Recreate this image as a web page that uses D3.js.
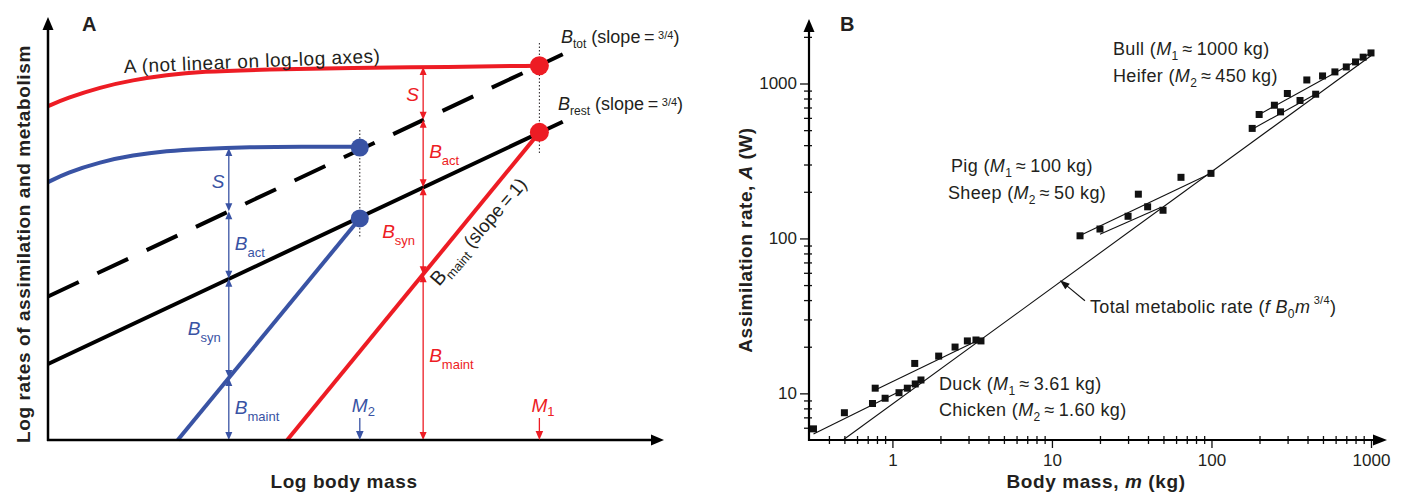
<!DOCTYPE html>
<html>
<head>
<meta charset="utf-8">
<script src="https://cdn.jsdelivr.net/npm/d3@7"></script>
<style>
  body { margin: 0; background: #fff; }
  svg text { font-family: "Liberation Sans", Arial, Helvetica, sans-serif; fill: #231f20; }
</style>
</head>
<body>
<div id="chart"></div>
<script>
// ---------- panel A : schematic, log body mass vs log rate (arbitrary units) ----------
const restLine = [[0, 1.8], [8.37, 7.54]];
const totLine = [[0, 3.4], [8.37, 9.14]];
const maintRed = [[3.89, 0], [7.99, 7.29]];
const maintBlue = [[2.11, 0], [5.07, 5.25]];
const assimRed = [[0, 7.91], [0.3, 8.1], [0.85, 8.36], [1.38, 8.53], [1.93, 8.65], [2.47, 8.73], [3.56, 8.78], [4.91, 8.82], [6.54, 8.84], [7.99, 8.87]];
const assimBlue = [[0, 6.11], [0.3, 6.33], [0.85, 6.59], [1.38, 6.75], [1.93, 6.85], [2.47, 6.9], [3.28, 6.94], [4.1, 6.95], [5.07, 6.95]];
const massMarkNames = ['2', '1'];
const massMarkU = [5.07, 7.99];
const dotsRed = [[7.99, 8.87], [7.99, 7.29]];
const dotsBlue = [[5.07, 6.93], [5.07, 5.25]];
// budget columns: level boundaries from top (A) to bottom (axis)
const budgetNames = ['S', 'act', 'syn', 'maint'];
const blueColumnU = 2.94;
const blueLevels = [6.92, 5.42, 3.82, 1.47, 0];
const redColumnU = 6.10;
const redLevels = [8.84, 7.59, 5.99, 3.93, 0];

// ---------- panel B : assimilation rate vs body mass ----------
const bullMass = [199, 248, 299, 396, 497, 594, 700, 800, 893, 1000];
const bullRate = [631, 724, 862, 1054, 1119, 1188, 1279, 1378, 1479, 1575];
const heiferMass = [180, 271, 359, 450];
const heiferRate = [513, 656, 777, 853];
const pigMass = [15, 34.8, 64.4, 99.3];
const pigRate = [104, 193, 248, 263];
const sheepMass = [20, 30, 39.8, 49.7];
const sheepRate = [115, 139, 160, 152];
const duckMass = [0.78, 1.38, 1.95, 2.47, 2.95, 3.34, 3.59];
const duckRate = [10.8, 15.6, 17.4, 19.9, 21.8, 22.1, 21.8];
const chickenMass = [0.32, 0.5, 0.75, 0.9, 1.1, 1.24, 1.39, 1.51];
const chickenRate = [5.9, 7.5, 8.6, 9.3, 10.1, 10.8, 11.5, 12.2];
// model curves (growth trajectories) and total metabolic rate line
const bullFit = [[195.5, 624], [986, 1563]];
const heiferFit = [[178.6, 505], [445, 849]];
const pigFit = [[15, 104.5], [99.3, 263]];
const sheepFit = [[20, 106.6], [47.6, 157.5]];
const duckFit = [[0.78, 10.5], [3.63, 22.6]];
const chickenFit = [[0.32, 5.46], [1.55, 12.2]];
const totalFit = [[0.49, 5], [1000, 1511]];
const totalPointer = [[16.1, 39.6], [11.2, 53.8]];
const yMajor = [10, 100, 1000];
const yMinor = [6, 7, 8, 9, 20, 30, 40, 50, 60, 70, 80, 90, 200, 300, 400, 500, 600, 700, 800, 900, 2000];
const xMajor = [1, 10, 100, 1000];
const xMinor = [0.4, 0.5, 0.6, 0.7, 0.8, 0.9, 2, 3, 4, 5, 6, 7, 8, 9, 20, 30, 40, 50, 60, 70, 80, 90, 200, 300, 400, 500, 600, 700, 800, 900];

const RED = '#ed1c24', BLUE = '#3953a4', INK = '#231f20';

const svg = d3.select('#chart').append('svg').attr('width', 1406).attr('height', 492);

// rich text helper: parts = [{t, i, sub, sup, size}]
function rich(g, x, y, parts, size, color, spacing) {
  const t = g.append('text').attr('x', x).attr('y', y).style('font-size', size + 'px');
  if (color) t.style('fill', color);
  if (spacing) t.style('letter-spacing', spacing + 'px');
  let shift = 0;
  parts.forEach(p => {
    const s = t.append('tspan').text(p.t);
    const target = p.sub ? (p.sub === true ? 5 : p.sub) : p.sup ? (p.sup === true ? -7 : p.sup) : 0;
    s.attr('dy', target - shift);
    shift = target;
    if (p.i) s.style('font-style', 'italic');
    if (p.size) s.style('font-size', p.size + 'px');
    else if (p.sub || p.sup) s.style('font-size', Math.round(size * 0.68) + 'px');
  });
  return t;
}

function arrowHead(g, x, y, dir, len, half, color) {
  let pts;
  if (dir === 'up') pts = [[x, y], [x - half, y + len], [x + half, y + len]];
  else if (dir === 'down') pts = [[x, y], [x - half, y - len], [x + half, y - len]];
  else pts = [[x, y], [x - len, y - half], [x - len, y + half]];
  g.append('path').attr('d', 'M' + pts.join('L') + 'Z').attr('fill', color);
}

// ================= Panel A =================
const gA = svg.append('g');
const xA = d3.scaleLinear().domain([0, 10]).range([48, 663]);
const yA = d3.scaleLinear().domain([0, 10]).range([440, 18]);
const lineA = d3.line().x(d => xA(d[0])).y(d => yA(d[1]));
const curveA = d3.line().curve(d3.curveBasis).x(d => xA(d[0])).y(d => yA(d[1]));

// dotted guides at M2 / M1
massMarkU.forEach((u, i) => {
  const top = i === 0 ? 130 : 43, bot = i === 0 ? 237 : 153;
  gA.append('line').attr('x1', xA(u)).attr('x2', xA(u)).attr('y1', top).attr('y2', bot)
    .attr('stroke', INK).attr('stroke-width', 1).attr('stroke-dasharray', '1.5,2');
});

gA.append('path').attr('d', lineA(totLine)).attr('fill', 'none').attr('stroke', '#000')
  .attr('stroke-width', 4).attr('stroke-dasharray', '34,20.5');
gA.append('path').attr('d', lineA(restLine)).attr('fill', 'none').attr('stroke', '#000').attr('stroke-width', 4);
gA.append('path').attr('d', lineA(maintBlue)).attr('fill', 'none').attr('stroke', BLUE).attr('stroke-width', 4);
gA.append('path').attr('d', lineA(maintRed)).attr('fill', 'none').attr('stroke', RED).attr('stroke-width', 4);
gA.append('path').attr('d', curveA(assimBlue)).attr('fill', 'none').attr('stroke', BLUE).attr('stroke-width', 4);
gA.append('path').attr('d', curveA(assimRed)).attr('fill', 'none').attr('stroke', RED).attr('stroke-width', 4);

gA.selectAll('.dotR').data(dotsRed).enter().append('circle')
  .attr('cx', d => xA(d[0])).attr('cy', d => yA(d[1])).attr('r', 9.5).attr('fill', RED);
gA.selectAll('.dotB').data(dotsBlue).enter().append('circle')
  .attr('cx', d => xA(d[0])).attr('cy', d => yA(d[1])).attr('r', 9).attr('fill', BLUE);

// budget double arrows
function budget(u, levels, color) {
  const x = xA(u);
  for (let k = 0; k < levels.length - 1; k++) {
    const y1 = yA(levels[k]), y2 = yA(levels[k + 1]);
    gA.append('line').attr('x1', x).attr('x2', x).attr('y1', y1 + 6).attr('y2', y2 - 6)
      .attr('stroke', color).attr('stroke-width', 1.3);
    arrowHead(gA, x, y1, 'up', 8, 3.5, color);
    arrowHead(gA, x, y2, 'down', 8, 3.5, color);
    const mid = (y1 + y2) / 2;
    if (k === 0) {
      rich(gA, x - 17, mid + 8, [{t: 'S', i: true}], 19, color);
    } else if (k % 2 === 1) {
      rich(gA, x + 6, mid + 5, [{t: 'B', i: true}, {t: budgetNames[k], sub: 7}], 19, color);
    } else {
      rich(gA, x - 41, mid + 7, [{t: 'B', i: true}, {t: budgetNames[k], sub: 7}], 19, color);
    }
  }
}
budget(blueColumnU, blueLevels, BLUE);
budget(redColumnU, redLevels, RED);

// axes with arrows
gA.append('line').attr('x1', xA(0)).attr('x2', xA(0)).attr('y1', yA(0) + 1).attr('y2', 28).attr('stroke', '#000').attr('stroke-width', 2.5);
arrowHead(gA, xA(0), 17, 'up', 13, 5.5, '#000');
gA.append('line').attr('x1', xA(0) - 1).attr('x2', 652).attr('y1', yA(0)).attr('y2', yA(0)).attr('stroke', '#000').attr('stroke-width', 2.5);
arrowHead(gA, 664, yA(0), 'right', 13, 5.5, '#000');

// M markers
massMarkU.forEach((u, i) => {
  const color = i === 0 ? BLUE : RED;
  const x = xA(u);
  gA.append('line').attr('x1', x).attr('x2', x).attr('y1', 418).attr('y2', 432).attr('stroke', color).attr('stroke-width', 1.3);
  arrowHead(gA, x, 440, 'down', 9, 3.8, color);
  rich(gA, x - 8, 412, [{t: 'M', i: true}, {t: massMarkNames[i], sub: 4}], 19, color);
});

// labels
gA.append('text').attr('x', 82).attr('y', 31).style('font-size', '20px').style('font-weight', 'bold').text('A');
gA.append('text').attr('transform', 'translate(124,73) rotate(-2.4)').style('font-size', '19px')
  .style('letter-spacing', '0.5px').text('A (not linear on log-log axes)');
rich(gA, 561, 43, [{t: 'B', i: true}, {t: 'tot', sub: 5}, {t: ' (slope\u2009=\u2009', sub: 0}, {t: '3/4', sup: -4, size: 11}, {t: ')', sup: 0}], 18);
rich(gA, 558, 110, [{t: 'B', i: true}, {t: 'rest', sub: 5}, {t: ' (slope\u2009=\u2009', sub: 0}, {t: '3/4', sup: -4, size: 11}, {t: ')', sup: 0}], 18);
rich(gA, 0, 0, [{t: 'B', size: 20}, {t: 'maint', sub: 5}, {t: '  (slope\u2009=\u20091)', sub: 0}], 18.5)
  .attr('transform', 'translate(439,287) rotate(-49)');
gA.append('text').attr('transform', 'translate(30,244) rotate(-90)').attr('text-anchor', 'middle')
  .style('font-size', '19px').style('font-weight', 'bold').style('letter-spacing', '0.6px')
  .text('Log rates of assimilation and metabolism');
gA.append('text').attr('x', 344).attr('y', 488).attr('text-anchor', 'middle')
  .style('font-size', '19px').style('font-weight', 'bold').style('letter-spacing', '0.6px').text('Log body mass');

// ================= Panel B =================
const gB = svg.append('g');
const xB = d3.scaleLog().domain([0.3, 1000]).range([809, 1371]);
const yB = d3.scaleLog().domain([5, 1000]).range([440, 83.5]);
const lineB = d3.line().x(d => xB(d[0])).y(d => yB(d[1]));

[bullFit, heiferFit, pigFit, sheepFit, duckFit, chickenFit, totalFit].forEach(f => {
  gB.append('path').attr('d', lineB(f)).attr('fill', 'none').attr('stroke', '#111').attr('stroke-width', 1.1);
});

const series = [[bullMass, bullRate], [heiferMass, heiferRate], [pigMass, pigRate], [sheepMass, sheepRate], [duckMass, duckRate], [chickenMass, chickenRate]];
series.forEach(([ms, rs]) => {
  gB.selectAll(null).data(ms.map((m, i) => [m, rs[i]])).enter().append('rect')
    .attr('x', d => xB(d[0]) - 3.5).attr('y', d => yB(d[1]) - 3.5)
    .attr('width', 7).attr('height', 7).attr('fill', '#111');
});

// pointer to total metabolic rate line
gB.append('line').attr('x1', xB(totalPointer[0][0])).attr('y1', yB(totalPointer[0][1]))
  .attr('x2', xB(totalPointer[1][0]) + 5).attr('y2', yB(totalPointer[1][1]) + 4)
  .attr('stroke', '#111').attr('stroke-width', 1.1);
(function () {
  const x0 = xB(totalPointer[0][0]), y0 = yB(totalPointer[0][1]);
  const x1 = xB(totalPointer[1][0]), y1 = yB(totalPointer[1][1]);
  const a = Math.atan2(y1 - y0, x1 - x0), L = 10, h = 3.5;
  const bx = x1 - L * Math.cos(a), by = y1 - L * Math.sin(a);
  const p = [[x1, y1], [bx + h * Math.sin(a), by - h * Math.cos(a)], [bx - h * Math.sin(a), by + h * Math.cos(a)]];
  gB.append('path').attr('d', 'M' + p.join('L') + 'Z').attr('fill', '#111');
})();

// axes
const yAxMajor = gB.append('g').attr('transform', 'translate(809,0)')
  .call(d3.axisLeft(yB).tickValues(yMajor).tickSize(9).tickPadding(3).tickFormat(d3.format('d')));
const yAxMinor = gB.append('g').attr('transform', 'translate(809,0)')
  .call(d3.axisLeft(yB).tickValues(yMinor).tickSize(5).tickFormat(''));
const xAxMajor = gB.append('g').attr('transform', 'translate(0,440)')
  .call(d3.axisBottom(xB).tickValues(xMajor).tickSize(8).tickPadding(6).tickFormat(d3.format('d')));
const xAxMinor = gB.append('g').attr('transform', 'translate(0,440)')
  .call(d3.axisBottom(xB).tickValues(xMinor).tickSize(4).tickFormat(''));
[yAxMajor, yAxMinor, xAxMajor, xAxMinor].forEach(a => {
  a.select('.domain').remove();
  a.selectAll('line').attr('stroke', '#111').attr('stroke-width', 1.3);
  a.selectAll('text').style('font-size', '17px').attr('fill', INK);
});
yAxMinor.selectAll('line').attr('x1', 3);
xAxMinor.selectAll('line').attr('y1', -4);
yAxMajor.selectAll('line').attr('x1', 1);

gB.append('line').attr('x1', 809).attr('x2', 809).attr('y1', 441).attr('y2', 30).attr('stroke', '#000').attr('stroke-width', 2.2);
arrowHead(gB, 809, 19, 'up', 13, 5.5, '#000');
gB.append('line').attr('x1', 808).attr('x2', 1375).attr('y1', 440).attr('y2', 440).attr('stroke', '#000').attr('stroke-width', 2.2);
arrowHead(gB, 1387, 440, 'right', 14, 5.5, '#000');

// labels
gB.append('text').attr('x', 840).attr('y', 31).style('font-size', '20px').style('font-weight', 'bold').text('B');
const approx = '\u2009\u2248\u2009';
const LS = 0.35;
rich(gB, 1113, 55, [{t: 'Bull ('}, {t: 'M', i: true}, {t: '1', sub: 5}, {t: approx + '1000 kg)', sub: 0}], 18, null, LS);
rich(gB, 1113, 81.5, [{t: 'Heifer ('}, {t: 'M', i: true}, {t: '2', sub: 5}, {t: approx + '450 kg)', sub: 0}], 18, null, LS);
rich(gB, 951, 172, [{t: 'Pig ('}, {t: 'M', i: true}, {t: '1', sub: 5}, {t: approx + '100 kg)', sub: 0}], 18, null, LS);
rich(gB, 948, 199, [{t: 'Sheep ('}, {t: 'M', i: true}, {t: '2', sub: 5}, {t: approx + '50 kg)', sub: 0}], 18, null, LS);
rich(gB, 939, 390, [{t: 'Duck ('}, {t: 'M', i: true}, {t: '1', sub: 5}, {t: approx + '3.61 kg)', sub: 0}], 18, null, LS);
rich(gB, 939, 416, [{t: 'Chicken ('}, {t: 'M', i: true}, {t: '2', sub: 5}, {t: approx + '1.60 kg)', sub: 0}], 18, null, LS);
rich(gB, 1090, 313, [{t: 'Total metabolic rate ('}, {t: 'f B', i: true}, {t: '0', sub: 5}, {t: 'm', i: true, sub: 0}, {t: ' 3/4', sup: -9, size: 11}, {t: ')', sup: 0}], 18, null, LS);
gB.append('text').attr('transform', 'translate(752,240) rotate(-90)').attr('text-anchor', 'middle')
  .style('font-size', '19px').style('font-weight', 'bold').style('letter-spacing', '0.5px')
  .call(t => { t.append('tspan').text('Assimilation rate, '); t.append('tspan').style('font-style', 'italic').text('A'); t.append('tspan').text(' (W)'); });
gB.append('text').attr('x', 1096).attr('y', 488).attr('text-anchor', 'middle')
  .style('font-size', '19px').style('font-weight', 'bold').style('letter-spacing', '0.6px')
  .call(t => { t.append('tspan').text('Body mass, '); t.append('tspan').style('font-style', 'italic').text('m'); t.append('tspan').text(' (kg)'); });
</script>
</body>
</html>
